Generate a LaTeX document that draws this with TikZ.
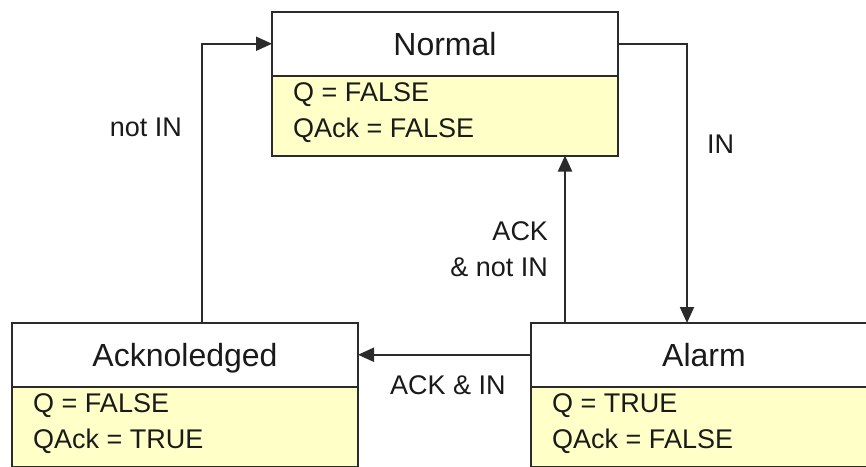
\documentclass[tikz,border=0pt]{standalone}
\usepackage{fontspec}
\setmainfont{Liberation Sans}
\usepackage{tikz}
\usetikzlibrary{arrows.meta,positioning,calc}
\definecolor{stline}{HTML}{2B2B2B}
\definecolor{stfill}{HTML}{FFFFC8}
\definecolor{sttext}{HTML}{1A1A1A}

\begin{document}
\begin{tikzpicture}[x=1pt,y=-1pt,
  sthead/.style={draw=stline,line width=2pt,fill=white,minimum width=346pt,
    minimum height=63.5pt,inner sep=0pt,outer sep=0pt,text height=23pt,text depth=0pt,
    text=sttext,font=\fontsize{32}{38}\selectfont},
  stbody/.style={draw=stline,line width=2pt,fill=stfill,minimum width=346pt,
    minimum height=80pt,inner sep=0pt,outer sep=0pt},
  stvals/.style={align=left,inner xsep=21pt,inner ysep=6.5pt,text=sttext,
    font=\fontsize{27}{36}\selectfont},
  lbl/.style={inner sep=0pt,text=sttext,font=\fontsize{27}{36}\selectfont},
  flow/.style={stline,line width=2pt,-{Triangle[length=16pt,width=14pt]}}]
  \useasboundingbox (0,0) rectangle (866,466);
  \clip (0,0) rectangle (866,466);
  \fill[white] (0,0) rectangle (866,466);

  \node[sthead,anchor=north west] (normal) at (272,12) {Normal};
  \node[stbody,anchor=north] (normalv) at (normal.south) {};
  \node[stvals,anchor=north west] (normalt) at (normalv.north west) {Q = FALSE\\QAck = FALSE};

  \node[sthead,anchor=north west] (ack) at (12,323) {Acknoledged};
  \node[stbody,anchor=north] (ackv) at (ack.south) {};
  \node[stvals,anchor=north west] (ackt) at (ackv.north west) {Q = FALSE\\QAck = TRUE};

  \node[sthead,anchor=north west] (alarm) at (531,323) {Alarm};
  \node[stbody,anchor=north] (alarmv) at (alarm.south) {};
  \node[stvals,anchor=north west] (alarmt) at (alarmv.north west) {Q = TRUE\\QAck = FALSE};

  \draw[flow] ([xshift=17pt]ack.north) |- node[lbl,pos=0.35,left=19pt] (notin) {not IN} (normal.west);
  \draw[flow] (normal.east) -| node[lbl,pos=0.68,right=19pt] (in) {IN} ([xshift=-17pt]alarm.north);
  \draw[flow] ([xshift=34pt]alarm.north west) -- node[lbl,pos=0.44,left=16pt,align=right] (acknotin) {ACK\\\& not IN} ([xshift=34pt]alarm.north west |- normalv.south);
  \draw[flow] (alarm.west) -- node[lbl,pos=0.48,below=20pt] (ackin) {ACK \& IN} (ack.east);
\end{tikzpicture}
\end{document}
